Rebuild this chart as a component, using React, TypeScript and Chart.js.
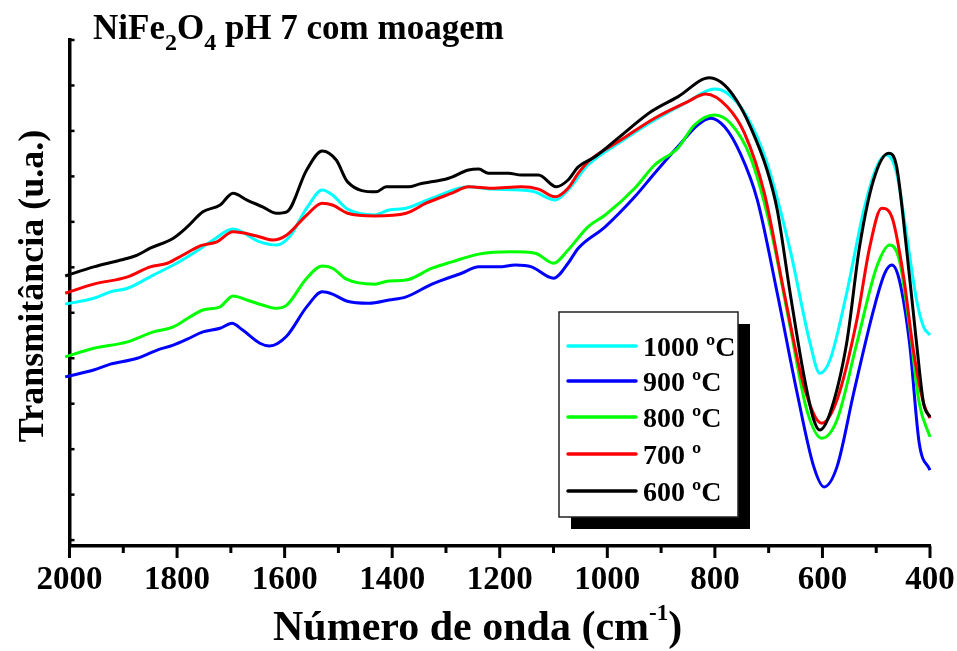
import React, { useEffect, useRef } from 'react';
import { Chart, registerables } from 'chart.js';

Chart.register(...registerables);

const FONT = '"Liberation Serif", "Times New Roman", serif';

// Wavenumbers (cm-1) and transmittance (a.u.)
const wn1000 = [2008, 1955, 1924, 1892, 1844, 1807, 1770, 1733, 1696, 1646, 1615, 1591, 1559, 1530, 1511, 1483, 1433, 1406, 1374, 1326, 1258, 1215, 1141, 1097, 1073, 1036, 975, 912, 851, 801, 777, 740, 703, 660, 623, 605, 586, 555, 523, 499, 481, 462, 444, 425, 412, 400];
const t1000 = [5.19, 5.32, 5.46, 5.54, 5.83, 6.05, 6.31, 6.6, 6.84, 6.56, 6.49, 6.67, 7.3, 7.7, 7.59, 7.28, 7.15, 7.26, 7.3, 7.52, 7.77, 7.72, 7.68, 7.48, 7.7, 8.25, 8.76, 9.24, 9.64, 9.92, 9.83, 9.31, 8.29, 6.38, 4.33, 3.67, 3.96, 5.43, 7.26, 8.21, 8.47, 8.07, 6.75, 5.28, 4.69, 4.51];

const wn900 = [2008, 1955, 1924, 1874, 1837, 1807, 1781, 1752, 1720, 1698, 1678, 1646, 1628, 1596, 1559, 1530, 1511, 1485, 1443, 1406, 1374, 1326, 1271, 1239, 1202, 1171, 1141, 1100, 1073, 1054, 1004, 949, 912, 869, 832, 808, 782, 753, 721, 684, 647, 616, 597, 573, 542, 505, 484, 471, 457, 438, 420, 400];
const t900 = [3.59, 3.74, 3.87, 4.0, 4.18, 4.29, 4.42, 4.58, 4.66, 4.77, 4.62, 4.33, 4.27, 4.49, 5.13, 5.46, 5.41, 5.26, 5.21, 5.28, 5.35, 5.63, 5.87, 6.01, 6.01, 6.05, 6.01, 5.76, 6.09, 6.42, 6.89, 7.55, 8.07, 8.65, 9.13, 9.28, 9.09, 8.51, 7.48, 5.43, 3.23, 1.61, 1.17, 1.61, 3.23, 5.06, 5.87, 6.05, 5.72, 4.33, 2.13, 1.54];

const wn800 = [2008, 1955, 1892, 1844, 1807, 1776, 1752, 1720, 1696, 1670, 1641, 1618, 1596, 1559, 1530, 1511, 1485, 1433, 1406, 1374, 1326, 1289, 1239, 1178, 1134, 1100, 1073, 1036, 1004, 949, 912, 869, 838, 801, 771, 734, 697, 660, 629, 601, 573, 536, 499, 475, 457, 438, 420, 400];
const t800 = [4.03, 4.22, 4.36, 4.58, 4.69, 4.91, 5.06, 5.13, 5.37, 5.28, 5.17, 5.1, 5.17, 5.76, 6.03, 5.98, 5.74, 5.63, 5.7, 5.72, 5.98, 6.12, 6.29, 6.34, 6.31, 6.09, 6.38, 6.89, 7.15, 7.74, 8.25, 8.62, 9.13, 9.35, 9.17, 8.43, 6.89, 4.69, 2.86, 2.24, 2.64, 4.33, 6.01, 6.49, 6.16, 4.69, 3.01, 2.27];

const wn700 = [2008, 1955, 1892, 1850, 1818, 1789, 1757, 1726, 1696, 1652, 1622, 1596, 1559, 1530, 1511, 1483, 1433, 1374, 1337, 1289, 1258, 1215, 1160, 1128, 1097, 1073, 1054, 1036, 975, 912, 851, 817, 777, 745, 708, 671, 634, 601, 573, 536, 512, 490, 471, 449, 431, 412, 400];
const t700 = [5.43, 5.63, 5.79, 6.01, 6.09, 6.27, 6.47, 6.56, 6.78, 6.69, 6.6, 6.71, 7.15, 7.41, 7.37, 7.19, 7.13, 7.19, 7.41, 7.63, 7.77, 7.74, 7.77, 7.72, 7.55, 7.74, 8.07, 8.32, 8.8, 9.28, 9.64, 9.81, 9.53, 8.95, 7.63, 5.43, 3.37, 2.57, 3.08, 4.84, 6.45, 7.3, 7.11, 5.79, 4.18, 3.01, 2.68];

const wn600 = [2008, 1955, 1905, 1874, 1850, 1807, 1781, 1752, 1720, 1696, 1670, 1641, 1615, 1596, 1559, 1530, 1504, 1483, 1430, 1411, 1369, 1350, 1295, 1258, 1239, 1221, 1184, 1160, 1128, 1095, 1073, 1054, 1023, 980, 919, 869, 810, 782, 758, 734, 703, 684, 660, 634, 616, 605, 586, 555, 531, 505, 477, 462, 444, 425, 412, 400];
const t600 = [5.81, 6.01, 6.16, 6.27, 6.42, 6.64, 6.89, 7.22, 7.37, 7.63, 7.48, 7.33, 7.19, 7.22, 8.14, 8.56, 8.36, 7.88, 7.66, 7.77, 7.77, 7.83, 7.96, 8.14, 8.16, 8.07, 8.07, 8.03, 8.03, 7.77, 7.92, 8.21, 8.43, 8.84, 9.42, 9.75, 10.17, 10.01, 9.64, 9.09, 8.14, 7.26, 5.43, 3.59, 2.64, 2.42, 2.79, 4.33, 6.45, 7.92, 8.51, 8.21, 6.45, 4.33, 3.01, 2.71];

const seriesLabels = ['1000 ºC', '900 ºC', '800 ºC', '700 º', '600 ºC'];
const seriesColors = ['#00FFFF', '#0000FF', '#00FF00', '#FF0000', '#000000'];
const seriesX = [wn1000, wn900, wn800, wn700, wn600];
const seriesY = [t1000, t900, t800, t700, t600];

const yTickValues = [0, 1, 2, 3, 4, 5, 6, 7, 8, 9, 10, 11];

type Run = { text: string; size: number; dy: number };

function drawRuns(ctx: CanvasRenderingContext2D, x: number, y: number, runs: Run[]) {
  let cx = x;
  ctx.textAlign = 'left';
  ctx.textBaseline = 'alphabetic';
  for (const r of runs) {
    ctx.font = `bold ${r.size}px ${FONT}`;
    ctx.fillText(r.text, cx, y + r.dy);
    cx += ctx.measureText(r.text).width;
  }
}

const decorPlugin = {
  id: 'decor',
  afterDraw(chart: any) {
    const ctx: CanvasRenderingContext2D = chart.ctx;
    const xs = chart.scales.x;
    const ys = chart.scales.y;
    const area = chart.chartArea;
    ctx.save();
    ctx.strokeStyle = '#000';
    ctx.fillStyle = '#000';
    ctx.lineCap = 'butt';

    // x tick marks (outward, long for labelled ones)
    xs.ticks.forEach((t: any) => {
      const px = xs.getPixelForValue(t.value);
      const major = t.value % 200 === 0;
      ctx.lineWidth = 3;
      ctx.beginPath();
      ctx.moveTo(px, area.bottom);
      ctx.lineTo(px, area.bottom + (major ? 12 : 7));
      ctx.stroke();
    });
    // y tick marks (inward, short)
    ys.ticks.forEach((t: any) => {
      const py = ys.getPixelForValue(t.value);
      ctx.lineWidth = 2.5;
      ctx.beginPath();
      ctx.moveTo(area.left, py);
      ctx.lineTo(area.left + 5, py);
      ctx.stroke();
    });

    // Title
    drawRuns(ctx, 93, 39, [
      { text: 'NiFe', size: 35, dy: 0 },
      { text: '2', size: 24, dy: 11 },
      { text: 'O', size: 35, dy: 0 },
      { text: '4', size: 24, dy: 11 },
      { text: ' pH 7 com moagem', size: 35, dy: 0 },
    ]);

    // X axis title
    drawRuns(ctx, 273, 640, [
      { text: 'Número de onda (cm', size: 42, dy: 0 },
      { text: '-1', size: 23, dy: -20 },
      { text: ')', size: 42, dy: 0 },
    ]);

    // Y axis title
    ctx.save();
    ctx.translate(43, 286);
    ctx.rotate(-Math.PI / 2);
    ctx.font = `bold 36px ${FONT}`;
    ctx.textAlign = 'center';
    ctx.textBaseline = 'alphabetic';
    ctx.fillText('Transmitância (u.a.)', 0, 0);
    ctx.restore();

    // Legend with drop shadow
    const bx = 559, by = 312, bw = 179, bh = 205;
    ctx.fillStyle = '#000';
    ctx.fillRect(bx + 12, by + 12, bw, bh);
    ctx.fillStyle = '#fff';
    ctx.fillRect(bx, by, bw, bh);
    ctx.lineWidth = 1.5;
    ctx.strokeStyle = '#222';
    ctx.strokeRect(bx, by, bw, bh);
    const rowY = [346, 381, 417, 454, 491];
    seriesLabels.forEach((lab, i) => {
      const ry = rowY[i];
      ctx.strokeStyle = seriesColors[i];
      ctx.lineWidth = 3.5;
      ctx.lineCap = 'round';
      ctx.beginPath();
      ctx.moveTo(568, ry);
      ctx.lineTo(636, ry);
      ctx.stroke();
      ctx.fillStyle = '#000';
      ctx.font = `bold 28px ${FONT}`;
      ctx.textAlign = 'left';
      ctx.textBaseline = 'alphabetic';
      ctx.fillText(lab, 643, ry + 9.5);
    });
    ctx.restore();
  },
};

export default function App() {
  const ref = useRef<HTMLCanvasElement | null>(null);

  useEffect(() => {
    if (!ref.current) return;
    const order = [5, 4, 3, 2, 1];
    const chart = new Chart(ref.current, {
      type: 'line',
      data: {
        datasets: seriesLabels.map((lab, i) => ({
          label: lab,
          data: seriesX[i].map((x, j) => ({ x, y: seriesY[i][j] })),
          borderColor: seriesColors[i],
          backgroundColor: seriesColors[i],
          borderWidth: 3,
          pointRadius: 0,
          fill: false,
          cubicInterpolationMode: 'monotone' as const,
          clip: false as any,
          order: order[i],
        })),
      },
      options: {
        animation: false,
        responsive: false,
        devicePixelRatio: 1,
        layout: { padding: { top: 40, right: 27, left: 0, bottom: 0 } },
        plugins: {
          legend: { display: false },
          tooltip: { enabled: false },
          title: { display: false },
        },
        scales: {
          x: {
            type: 'linear',
            position: 'bottom',
            reverse: true,
            min: 400,
            max: 2000,
            grid: { display: false, drawTicks: false },
            border: { display: true, width: 3.5, color: '#000' },
            ticks: {
              stepSize: 100,
              autoSkip: false,
              maxRotation: 0,
              padding: 15,
              color: '#000',
              font: { family: FONT, size: 33, weight: 'bold' },
              callback: (v: any) => (Number(v) % 200 === 0 ? String(v) : ''),
            },
            afterFit: (scale: any) => {
              scale.height = 105;
              scale.paddingLeft = 0;
              scale.paddingRight = 0;
            },
          },
          y: {
            type: 'linear',
            min: -0.13,
            max: 11,
            grid: { display: false, drawTicks: false },
            border: { display: true, width: 3.5, color: '#000' },
            ticks: { display: false },
            afterBuildTicks: (scale: any) => {
              scale.ticks = yTickValues.map((v) => ({ value: v }));
            },
            afterFit: (scale: any) => {
              scale.width = 69.5;
              scale.paddingTop = 0;
              scale.paddingBottom = 0;
            },
          },
        },
      } as any,
      plugins: [decorPlugin],
    });
    return () => chart.destroy();
  }, []);

  return (
    <div style={{ position: 'absolute', left: 0, top: 0, width: 957, height: 651, background: '#fff' }}>
      <canvas ref={ref} width={957} height={651} style={{ display: 'block' }} />
    </div>
  );
}
